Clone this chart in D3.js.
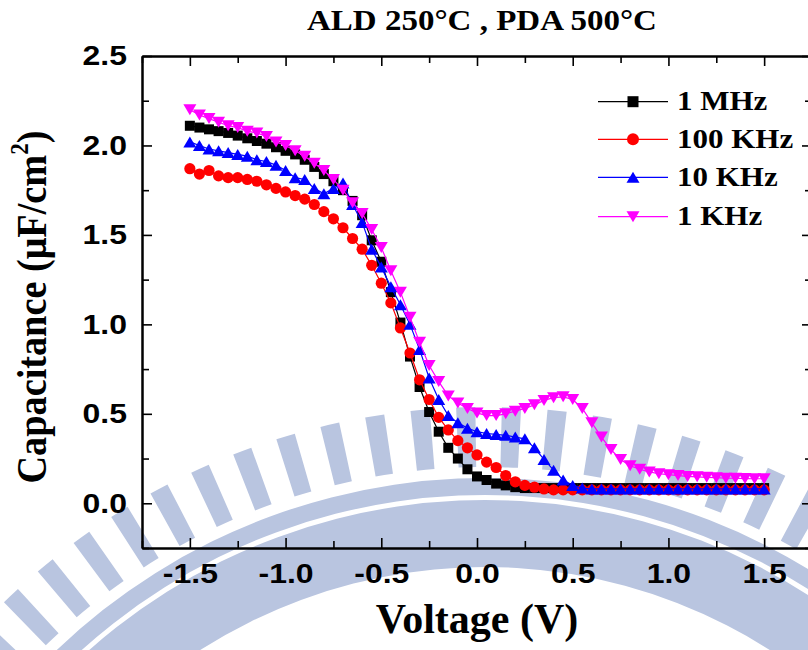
<!DOCTYPE html>
<html>
<head>
<meta charset="utf-8">
<script src="https://cdn.jsdelivr.net/npm/d3@7"></script>
<style>
  body { margin: 0; background: #fff; }
  svg { display: block; }
  .squash { transform-box: fill-box; transform-origin: center; transform: scaleY(0.88); }
</style>
</head>
<body>
<div class="root"></div>
<script>
// measured voltage points (V)
var voltage = [-1.50, -1.45, -1.40, -1.35, -1.30, -1.25, -1.20, -1.15, -1.10, -1.05,
  -1.00, -0.95, -0.90, -0.85, -0.80, -0.75, -0.70, -0.65, -0.60, -0.55,
  -0.50, -0.45, -0.40, -0.35, -0.30, -0.25, -0.20, -0.15, -0.10, -0.05,
  0.00, 0.05, 0.10, 0.15, 0.20, 0.25, 0.30, 0.35, 0.40, 0.45,
  0.50, 0.55, 0.60, 0.65, 0.70, 0.75, 0.80, 0.85, 0.90, 0.95,
  1.00, 1.05, 1.10, 1.15, 1.20, 1.25, 1.30, 1.35, 1.40, 1.45, 1.50];

var c1MHz = [2.11, 2.10, 2.09, 2.08, 2.07, 2.055, 2.04, 2.025, 2.01, 1.99,
  1.97, 1.95, 1.92, 1.88, 1.84, 1.80, 1.75, 1.69, 1.61, 1.47,
  1.35, 1.18, 1.01, 0.82, 0.65, 0.51, 0.40, 0.31, 0.25, 0.19,
  0.15, 0.13, 0.11, 0.10, 0.09, 0.085, 0.085, 0.085, 0.085, 0.085,
  0.085, 0.085, 0.085, 0.085, 0.085, 0.085, 0.085, 0.085, 0.085, 0.085,
  0.085, 0.085, 0.085, 0.085, 0.085, 0.085, 0.085, 0.085, 0.085, 0.085, 0.085];

var c100KHz = [1.87, 1.84, 1.86, 1.83, 1.82, 1.82, 1.81, 1.80, 1.78, 1.76,
  1.74, 1.72, 1.70, 1.67, 1.63, 1.59, 1.54, 1.48, 1.42, 1.33,
  1.23, 1.12, 0.98, 0.84, 0.69, 0.58, 0.48, 0.41, 0.35, 0.31,
  0.27, 0.23, 0.20, 0.155, 0.12, 0.10, 0.09, 0.08, 0.075, 0.075,
  0.075, 0.075, 0.075, 0.075, 0.075, 0.075, 0.075, 0.075, 0.075, 0.075,
  0.075, 0.075, 0.075, 0.075, 0.075, 0.075, 0.075, 0.075, 0.075, 0.075, 0.075];

var c10KHz = [2.02, 2.00, 1.98, 1.97, 1.96, 1.95, 1.94, 1.92, 1.91, 1.89,
  1.86, 1.82, 1.81, 1.76, 1.73, 1.76, 1.79, 1.67, 1.57, 1.42,
  1.32, 1.21, 1.11, 1.00, 0.86, 0.70, 0.58, 0.49, 0.45, 0.42,
  0.40, 0.39, 0.385, 0.38, 0.37, 0.36, 0.31, 0.245, 0.185, 0.13,
  0.10, 0.085, 0.08, 0.08, 0.08, 0.08, 0.08, 0.08, 0.08, 0.08,
  0.08, 0.08, 0.08, 0.08, 0.08, 0.08, 0.08, 0.08, 0.08, 0.08, 0.08];

var c1KHz = [2.20, 2.17, 2.15, 2.13, 2.11, 2.10, 2.08, 2.07, 2.05, 2.02,
  2.00, 1.97, 1.94, 1.90, 1.86, 1.81, 1.75, 1.68, 1.62, 1.53,
  1.43, 1.30, 1.18, 1.04, 0.90, 0.77, 0.68, 0.60, 0.56, 0.53,
  0.505, 0.49, 0.49, 0.50, 0.515, 0.53, 0.55, 0.575, 0.59, 0.595,
  0.58, 0.53, 0.45, 0.37, 0.30, 0.245, 0.21, 0.19, 0.175, 0.165,
  0.16, 0.155, 0.15, 0.148, 0.145, 0.143, 0.14, 0.14, 0.138, 0.137, 0.137];

var seriesNames = ['1 MHz', '100 KHz', '10 KHz', '1 KHz'];
var seriesColors = ['#000000', '#ff0000', '#0000ff', '#ff00ff'];
var seriesShapes = ['square', 'circle', 'triangle', 'down'];

var xTicks = [-1.5, -1.0, -0.5, 0.0, 0.5, 1.0, 1.5];
var xTickLabels = ['-1.5', '-1.0', '-0.5', '0.0', '0.5', '1.0', '1.5'];
var xMinor = [-1.75, -1.25, -0.75, -0.25, 0.25, 0.75, 1.25, 1.75];
var yTicks = [0.0, 0.5, 1.0, 1.5, 2.0, 2.5];
var yTickLabels = ['0.0', '0.5', '1.0', '1.5', '2.0', '2.5'];
var yMinor = [-0.25, 0.25, 0.75, 1.25, 1.75, 2.25];

function drawChart() {
  var w = 808, h = 650;
  var left = 142, right = 812, top = 56, bottom = 548;
  var serif = '"Liberation Serif", "Times New Roman", serif';

  var svg = d3.select('.root').append('svg')
    .attr('width', w)
    .attr('height', h);

  // faint watermark left over from the scan
  var wm = svg.append('g')
    .attr('transform', 'translate(485,1097)')
    .attr('fill', '#b9c5e0');
  var arc = d3.arc();
  var deg = Math.PI / 180;
  wm.append('path').attr('d', arc({innerRadius: 602, outerRadius: 619, startAngle: -50 * deg, endAngle: 45 * deg}));
  wm.append('path').attr('d', arc({innerRadius: 530, outerRadius: 597, startAngle: -50 * deg, endAngle: 45 * deg}));
  for (var a = -48; a < 45; a += 3.8) {
    wm.append('path').attr('d', arc({innerRadius: 630, outerRadius: 690, startAngle: a * deg, endAngle: (a + 1.6) * deg}));
  }

  var x = d3.scaleLinear().domain([-1.75, 1.75]).range([left, right]);
  var y = d3.scaleLinear().domain([-0.25, 2.5]).range([bottom, top]);

  var tickFont = function(sel) {
    sel.selectAll('text')
      .attr('class', 'squash')
      .attr('font-family', '"Liberation Sans", Arial, sans-serif')
      .attr('font-weight', 'bold')
      .attr('font-size', 32)
      .attr('fill', '#000');
    sel.selectAll('line').attr('stroke-width', 1.6);
    sel.select('.domain').attr('stroke-width', 2);
  };

  // bottom axis
  svg.append('g')
    .attr('transform', 'translate(0,' + bottom + ')')
    .call(d3.axisBottom(x).tickValues(xTicks)
      .tickFormat(function(d, i) { return xTickLabels[i]; })
      .tickSizeInner(-10).tickSizeOuter(0).tickPadding(14))
    .call(tickFont);
  svg.append('g')
    .attr('transform', 'translate(0,' + bottom + ')')
    .call(d3.axisBottom(x).tickValues(xMinor).tickFormat('').tickSizeInner(-7).tickSizeOuter(0))
    .call(tickFont);

  // top axis
  svg.append('g')
    .attr('transform', 'translate(0,' + top + ')')
    .call(d3.axisTop(x).tickValues(xTicks).tickFormat('').tickSizeInner(-10).tickSizeOuter(0))
    .call(tickFont);
  svg.append('g')
    .attr('transform', 'translate(0,' + top + ')')
    .call(d3.axisTop(x).tickValues(xMinor).tickFormat('').tickSizeInner(-7).tickSizeOuter(0))
    .call(tickFont);

  // left axis
  svg.append('g')
    .attr('transform', 'translate(' + left + ',0)')
    .call(d3.axisLeft(y).tickValues(yTicks)
      .tickFormat(function(d, i) { return yTickLabels[i]; })
      .tickSizeInner(-10).tickSizeOuter(0).tickPadding(15))
    .call(tickFont);
  svg.append('g')
    .attr('transform', 'translate(' + left + ',0)')
    .call(d3.axisLeft(y).tickValues(yMinor).tickFormat('').tickSizeInner(-7).tickSizeOuter(0))
    .call(tickFont);

  // right axis
  svg.append('g')
    .attr('transform', 'translate(' + right + ',0)')
    .call(d3.axisRight(y).tickValues(yTicks).tickFormat('').tickSizeInner(-10).tickSizeOuter(0))
    .call(tickFont);
  svg.append('g')
    .attr('transform', 'translate(' + right + ',0)')
    .call(d3.axisRight(y).tickValues(yMinor).tickFormat('').tickSizeInner(-7).tickSizeOuter(0))
    .call(tickFont);

  function markerPath(shape, s) {
    if (shape === 'square') return 'M' + (-s/2) + ',' + (-s/2) + 'h' + s + 'v' + s + 'h' + (-s) + 'Z';
    if (shape === 'triangle') return 'M0,' + (-s/2) + 'L' + (s/2 + 1) + ',' + (s/2) + 'L' + (-s/2 - 1) + ',' + (s/2) + 'Z';
    if (shape === 'down') return 'M0,' + (s/2) + 'L' + (s/2 + 1) + ',' + (-s/2) + 'L' + (-s/2 - 1) + ',' + (-s/2) + 'Z';
    return null;
  }

  var allSeries = [c1MHz, c100KHz, c10KHz, c1KHz];
  var line = d3.line()
    .x(function(d) { return x(d[0]); })
    .y(function(d) { return y(d[1]); });

  allSeries.forEach(function(vals, k) {
    var pts = voltage.map(function(v, i) { return [v, vals[i]]; });
    var g = svg.append('g');
    g.append('path')
      .attr('d', line(pts))
      .attr('fill', 'none')
      .attr('stroke', seriesColors[k])
      .attr('stroke-width', 1.2);
    if (seriesShapes[k] === 'circle') {
      g.selectAll('circle')
        .data(pts)
        .enter().append('circle')
          .attr('cx', function(d) { return x(d[0]); })
          .attr('cy', function(d) { return y(d[1]); })
          .attr('r', 5.6)
          .attr('fill', seriesColors[k]);
    } else {
      g.selectAll('path.mk')
        .data(pts)
        .enter().append('path')
          .attr('class', 'mk')
          .attr('transform', function(d) { return 'translate(' + x(d[0]) + ',' + y(d[1]) + ')'; })
          .attr('d', markerPath(seriesShapes[k], seriesShapes[k] === 'square' ? 10 : 11))
          .attr('fill', seriesColors[k]);
    }
  });

  // legend
  var legY = [101.7, 139.3, 177.3, 216.7];
  seriesNames.forEach(function(name, k) {
    var g = svg.append('g').attr('transform', 'translate(0,' + legY[k] + ')');
    g.append('line')
      .attr('x1', 598).attr('x2', 668)
      .attr('stroke', seriesColors[k])
      .attr('stroke-width', 1.2);
    if (seriesShapes[k] === 'circle') {
      g.append('circle').attr('cx', 633).attr('cy', 0).attr('r', 6).attr('fill', seriesColors[k]);
    } else {
      g.append('path')
        .attr('transform', 'translate(633,0)')
        .attr('d', markerPath(seriesShapes[k], 11))
        .attr('fill', seriesColors[k]);
    }
    g.append('text')
      .attr('class', 'squash')
      .attr('x', 677)
      .attr('y', 10)
      .attr('font-family', serif)
      .attr('font-weight', 'bold')
      .attr('font-size', 31)
      .text(name);
  });

  // title
  svg.append('text')
    .attr('class', 'squash')
    .attr('x', 482)
    .attr('y', 31)
    .attr('text-anchor', 'middle')
    .attr('font-family', serif)
    .attr('font-weight', 'bold')
    .attr('font-size', 33)
    .text('ALD 250°C , PDA 500°C');

  // x title
  svg.append('text')
    .attr('x', (left + right) / 2)
    .attr('y', 633)
    .attr('text-anchor', 'middle')
    .attr('font-family', serif)
    .attr('font-weight', 'bold')
    .attr('font-size', 42)
    .text('Voltage (V)');

  // y title, squeezed along its length like the scan
  var yt = svg.append('text')
    .attr('transform', 'translate(46,307) rotate(-90) scale(0.89,1)')
    .attr('text-anchor', 'middle')
    .attr('font-family', serif)
    .attr('font-weight', 'bold')
    .attr('font-size', 43);
  yt.append('tspan').text('Capacitance (μF/cm');
  yt.append('tspan').attr('font-size', 26).attr('dy', -18).text('2');
  yt.append('tspan').attr('dy', 18).text(')');
}

window.onload = function() {
  drawChart();
};
</script>
</body>
</html>
